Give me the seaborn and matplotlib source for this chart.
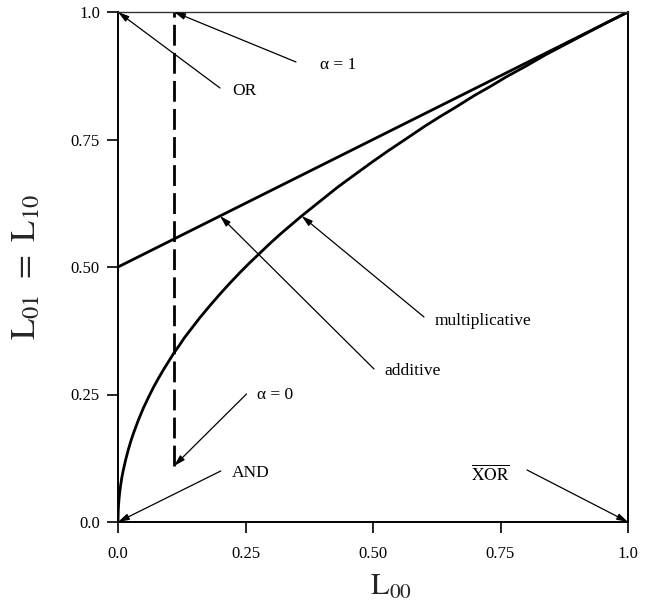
import matplotlib
matplotlib.use("Agg")
import matplotlib.pyplot as plt
import seaborn as sns

# values
tick_vals = [0.0, 0.25, 0.50, 0.75, 1.0]
tick_labels = ["0.0", "0.25", "0.50", "0.75", "1.0"]

additive_x = [0.0, 1.0]
additive_y = [0.5, 1.0]

mult_x = [0.0, 0.0005, 0.001, 0.002, 0.003, 0.005, 0.0075, 0.01, 0.015, 0.02,
          0.025, 0.03, 0.04, 0.05, 0.06, 0.07, 0.08, 0.09, 0.10, 0.11, 0.12,
          0.13, 0.14, 0.15, 0.16, 0.18, 0.20, 0.22, 0.24, 0.26, 0.28, 0.30,
          0.32, 0.34, 0.36, 0.38, 0.40, 0.43, 0.46, 0.50, 0.53, 0.56, 0.60,
          0.63, 0.66, 0.70, 0.73, 0.76, 0.80, 0.84, 0.88, 0.92, 0.96, 1.0]
mult_y = [0.0, 0.022, 0.032, 0.045, 0.055, 0.071, 0.087, 0.100, 0.122, 0.141,
          0.158, 0.173, 0.200, 0.224, 0.245, 0.265, 0.283, 0.300, 0.316, 0.332,
          0.346, 0.361, 0.374, 0.387, 0.400, 0.424, 0.447, 0.469, 0.490, 0.510,
          0.529, 0.548, 0.566, 0.583, 0.600, 0.616, 0.632, 0.656, 0.678, 0.707,
          0.728, 0.748, 0.775, 0.794, 0.812, 0.837, 0.854, 0.872, 0.894, 0.917,
          0.938, 0.959, 0.980, 1.0]

alpha_x = [0.11, 0.11]
alpha_y = [0.11, 1.0]

# (text, arrow head, arrow tail, text position)
notes = [
    ("OR", (0.0, 1.0), (0.20, 0.851), (0.224, 0.845)),
    ("α = 1", (0.11, 1.0), (0.349, 0.902), (0.396, 0.896)),
    ("additive", (0.20, 0.60), (0.502, 0.300), (0.522, 0.296)),
    ("multiplicative", (0.36, 0.60), (0.600, 0.402), (0.620, 0.394)),
    ("α = 0", (0.11, 0.11), (0.252, 0.251), (0.273, 0.249)),
    ("AND", (0.0, 0.0), (0.2015, 0.100), (0.224, 0.096)),
    (r"$\overline{\mathrm{XOR}}$", (1.0, 0.0), (0.802, 0.102), (0.693, 0.094)),
]

sns.set_theme(style="ticks")
plt.rcParams["font.family"] = ["Liberation Serif", "DejaVu Serif"]
plt.rcParams["mathtext.fontset"] = "stix"

fig = plt.figure(figsize=(6.48, 6.14), dpi=100)
ax = fig.add_axes([118 / 648, 1 - 522 / 614, 510 / 648, 510 / 614])

sns.lineplot(x=additive_x, y=additive_y, ax=ax, color="black", lw=2.0,
             estimator=None, sort=False)
sns.lineplot(x=mult_x, y=mult_y, ax=ax, color="black", lw=2.0,
             estimator=None, sort=False)
sns.lineplot(x=alpha_x, y=alpha_y, ax=ax, color="black", lw=2.0,
             estimator=None, sort=False, linestyle=(0, (7.5, 2.6)))

for text, head, tail, pos in notes:
    ax.annotate("", xy=head, xytext=tail,
                arrowprops=dict(arrowstyle="-|>,head_length=0.55,head_width=0.16",
                                color="black", lw=0.9, mutation_scale=12,
                                shrinkA=0, shrinkB=0))
    ax.text(pos[0], pos[1], text, fontsize=12.5, ha="left", va="center",
            color="black")

ax.set_xlim(0, 1)
ax.set_ylim(0, 1)
ax.set_xticks(tick_vals)
ax.set_xticklabels(tick_labels)
ax.set_yticks(tick_vals)
ax.set_yticklabels(tick_labels)
ax.tick_params(axis="both", direction="out", length=8, width=1.2,
               labelsize=12, colors="black")
ax.tick_params(axis="x", pad=9)
ax.tick_params(axis="y", pad=5)

for side in ["left", "bottom", "right"]:
    ax.spines[side].set_linewidth(1.4)
    ax.spines[side].set_color("black")
ax.spines["top"].set_linewidth(1.0)
ax.spines["top"].set_color("#333333")

ax.set_xlabel(r"$\mathrm{L}_{00}$", fontsize=22)
ax.set_ylabel(r"$\mathrm{L}_{01}\ =\ \mathrm{L}_{10}$", fontsize=25)
ax.xaxis.set_label_coords(0.535, -0.100)
ax.yaxis.set_label_coords(-0.146, 0.5)

fig.savefig("out.png", dpi=100)
